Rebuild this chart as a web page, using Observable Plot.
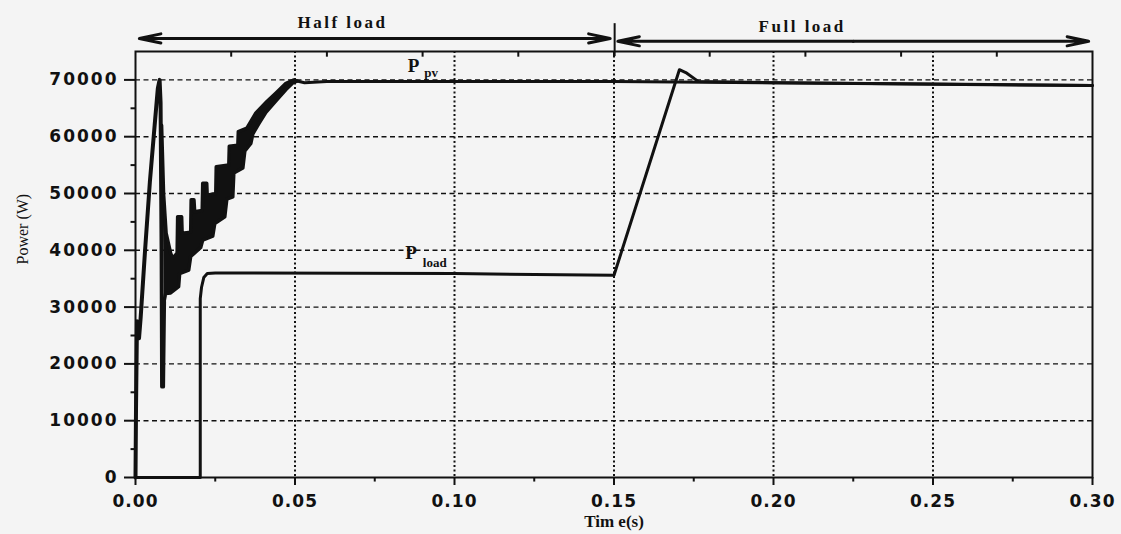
<!DOCTYPE html>
<html>
<head>
<meta charset="utf-8">
<script src="https://cdn.jsdelivr.net/npm/d3@7"></script>
<script src="https://cdn.jsdelivr.net/npm/@observablehq/plot@0.6"></script>
<style>
  html, body { margin: 0; padding: 0; background: #f4f4f4; }
  #chart svg { display: block; }
  #chart g[aria-label="x-axis tick label"] { letter-spacing: 1px; }
  #chart g[aria-label="y-axis tick label"] { letter-spacing: 2px; }
</style>
</head>
<body>
<div id="chart"></div>
<script>
// Axis ticks
const xTicks = [0, 0.05, 0.10, 0.15, 0.20, 0.25, 0.30];
const xMinorTicks = [0.025, 0.075, 0.125, 0.175, 0.225, 0.275];
const topTicks = [0.03, 0.06, 0.09, 0.12, 0.15, 0.18, 0.21, 0.24, 0.27];
const yTicks = [0, 10000, 20000, 30000, 40000, 50000, 60000, 70000];
const yMinorTicks = [5000, 15000, 25000, 35000, 45000, 55000, 65000];
const xGrid = [0.05, 0.10, 0.15, 0.20, 0.25];
const yGrid = [10000, 20000, 30000, 40000, 50000, 60000, 70000];

// Operating phases shown above the plot
const phaseLabels = ["Half load", "Full load"];
const phaseStart = [0, 0.15];
const phaseEnd = [0.15, 0.30];

// PV power: start-up transient (s, W)
const pvStartTime  = [0, 0.00016, 0.00047, 0.00110, 0.00160, 0.00300, 0.00450, 0.00600, 0.00700, 0.00755, 0.00786, 0.00818, 0.00833, 0.00865, 0.00896];
const pvStartPower = [0, 12000, 27500, 24500, 28000, 40000, 52000, 62000, 68500, 70000, 66000, 40000, 16000, 16000, 31000];

// PV power: switching ripple band, upper and lower envelopes (s, W)
const bandUpperTime  = [0.00818, 0.00880, 0.00960, 0.01101, 0.01164, 0.01305, 0.01321, 0.01447, 0.01462, 0.01730, 0.01745, 0.01833, 0.01855, 0.02091, 0.02107, 0.02233, 0.02248, 0.02516, 0.02531, 0.02925, 0.02940, 0.03208, 0.03223, 0.03491, 0.03774, 0.04119, 0.04403, 0.04717, 0.04969, 0.05063];
const bandUpperPower = [62000, 50000, 43000, 39500, 38600, 39500, 45900, 45900, 43000, 43200, 48900, 48900, 46800, 47000, 51800, 51800, 49700, 50000, 54700, 55000, 58300, 58500, 60900, 61500, 64200, 66200, 67700, 69400, 70000, 69800];
const bandLowerTime  = [0.00896, 0.00943, 0.01101, 0.01352, 0.01384, 0.01667, 0.01730, 0.02044, 0.02107, 0.02421, 0.02484, 0.02799, 0.02862, 0.03050, 0.03082, 0.03365, 0.03428, 0.03616, 0.03679, 0.03868, 0.04088, 0.04403, 0.04717, 0.04937, 0.05063];
const bandLowerPower = [31000, 32400, 32500, 33600, 35900, 36500, 38900, 40500, 41800, 42500, 44700, 45900, 49000, 49400, 53600, 54500, 57500, 58800, 60500, 62300, 64300, 66300, 68300, 69500, 69800];

// PV power: steady state (s, W)
const pvSteadyTime  = [0.05063, 0.0530, 0.0600, 0.1000, 0.1500, 0.2000, 0.2500, 0.3000];
const pvSteadyPower = [69800, 69500, 69700, 69700, 69700, 69500, 69300, 69000];

// Load power (s, W)
const loadTime  = [0, 0.0203, 0.0203, 0.0207, 0.0214, 0.0225, 0.0250, 0.1000, 0.1500, 0.1705, 0.1725, 0.1765, 0.2000, 0.3000];
const loadPower = [0, 0, 31500, 33500, 35200, 35900, 36000, 35900, 35600, 71800, 71300, 69700, 69500, 69000];

const pts = (t, p) => t.map((d, i) => ({t: d, p: p[i]}));
const pvStart = pts(pvStartTime, pvStartPower);
const pvSteady = pts(pvSteadyTime, pvSteadyPower);
const load = pts(loadTime, loadPower);
// closed outline of the ripple band: upper edge forward, lower edge back
const band = pts(bandUpperTime, bandUpperPower).concat(pts(bandLowerTime, bandLowerPower).reverse());

const phases = phaseLabels.map((label, i) => ({label, start: phaseStart[i], end: phaseEnd[i], mid: (phaseStart[i] + phaseEnd[i]) / 2}));

const ink = "#111";
const tickFont = {fontFamily: "DejaVu Sans", fontWeight: "bold", fontSize: 17};
const serif = "Liberation Serif";

const chart = Plot.plot({
  width: 1121,
  height: 534,
  marginLeft: 135,
  marginRight: 29,
  marginTop: 51,
  marginBottom: 57,
  style: {background: "#f4f4f4", color: ink, overflow: "visible"},
  x: {domain: [0, 0.3]},
  y: {domain: [0, 75000]},
  marks: [
    // grid
    Plot.ruleY(yGrid, {stroke: ink, strokeWidth: 1.4, strokeDasharray: "5,3.5"}),
    Plot.ruleX(xGrid, {stroke: ink, strokeWidth: 2, strokeDasharray: "2,2.5"}),

    // minor ticks
    Plot.ruleX(xMinorTicks, {y1: 0, y2: -800, stroke: ink, strokeWidth: 2}),
    Plot.ruleX(topTicks, {y1: 75000, y2: 74000, stroke: ink, strokeWidth: 2}),
    Plot.ruleY(yMinorTicks, {x1: 0, x2: -0.0014, stroke: ink, strokeWidth: 2}),

    // axes
    Plot.axisX({ticks: xTicks, tickSize: 8, tickPadding: 9, strokeWidth: 2, tickFormat: d3.format(".2f"), label: null, ...tickFont}),
    Plot.axisY({ticks: yTicks, tickSize: 11, tickPadding: 6, strokeWidth: 2, tickFormat: d3.format("d"), label: null, ...tickFont}),
    Plot.frame({stroke: ink, strokeWidth: 2}),

    // load power
    Plot.line(load, {x: "t", y: "p", stroke: ink, strokeWidth: 3}),

    // PV power
    Plot.line(band, {x: "t", y: "p", fill: ink, stroke: ink, strokeWidth: 3.5, strokeLinejoin: "round"}),
    Plot.line(pvStart, {x: "t", y: "p", stroke: ink, strokeWidth: 4, strokeLinejoin: "round"}),
    Plot.line(pvSteady, {x: "t", y: "p", stroke: ink, strokeWidth: 3}),

    // curve labels
    Plot.text(["P"], {x: 0.0872, y: 72500, fontFamily: serif, fontWeight: "bold", fontSize: 19}),
    Plot.text(["pv"], {x: 0.0927, y: 71300, fontFamily: serif, fontWeight: "bold", fontSize: 13}),
    Plot.text(["P"], {x: 0.0864, y: 39600, fontFamily: serif, fontWeight: "bold", fontSize: 19}),
    Plot.text(["load"], {x: 0.0938, y: 37800, fontFamily: serif, fontWeight: "bold", fontSize: 13}),

    // phase arrows and labels
    Plot.arrow(phases, {x1: "mid", x2: d => d.start + 0.0012, y: (d, i) => i === 0 ? 77300 : 76800, stroke: ink, strokeWidth: 3, headLength: 11, headAngle: 24}),
    Plot.arrow(phases, {x1: "mid", x2: d => d.end - 0.0012, y: (d, i) => i === 0 ? 77300 : 76800, stroke: ink, strokeWidth: 3, headLength: 11, headAngle: 24}),
    Plot.ruleX([0.1502], {y1: 74100, y2: 79900, stroke: ink, strokeWidth: 2}),
    Plot.text(phases, {x: (d, i) => d.mid + (i === 0 ? -0.0101 : -0.016), y: (d, i) => i === 0 ? 80100 : 79400, text: "label", fontFamily: serif, fontWeight: "bold", fontSize: 17}),

    // axis titles
    Plot.text(["Power (W)"], {frameAnchor: "left", dx: -113, rotate: -90, fontFamily: serif, fontSize: 16}),
    Plot.text(["Tim e(s)"], {frameAnchor: "bottom", dy: 49, fontFamily: serif, fontWeight: "bold", fontSize: 17})
  ]
});

// widen the phase captions
d3.select(chart).selectAll("text")
  .filter(function () { return phaseLabels.includes(this.textContent); })
  .style("letter-spacing", "2.5px");

document.getElementById("chart").append(chart);
</script>
</body>
</html>
